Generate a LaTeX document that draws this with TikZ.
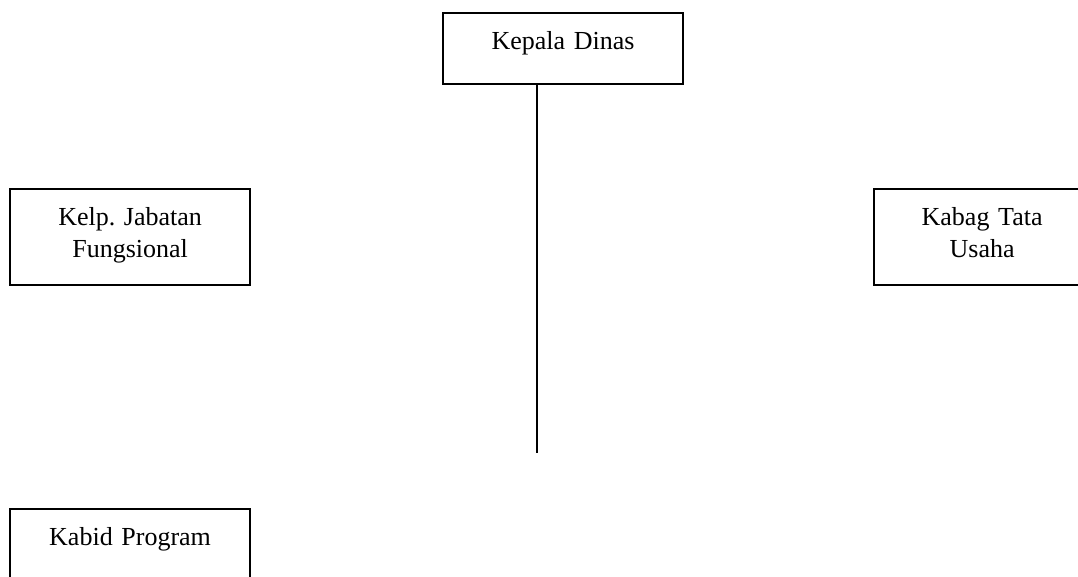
\documentclass[tikz,border=0pt]{standalone}
\usepackage{fontspec}
\setmainfont{Liberation Serif}
\frenchspacing
\usepackage{tikz}
\usetikzlibrary{calc,positioning}

\begin{document}
\begin{tikzpicture}[x=0.5pt,y=-0.5pt,
    unit/.style={draw,line width=1.1pt,anchor=north west,inner sep=0pt,
      align=center,text width=#1,text height=18pt,text depth=30pt,
      font=\fontsize{13}{16}\selectfont},
    unit/.default=120pt]
  \useasboundingbox (0,0) rectangle (1078,577);
  \clip (0,0) rectangle (1078,577);

  \node[unit,text depth=17.5pt] (kadis) at (442,12) {Kepala Dinas};
  \node[unit] (jafung) at (9,188) {Kelp. Jabatan\\Fungsional};
  \node[unit=108pt] (tu) at (873,188) {Kabag Tata\\Usaha};
  \node[unit] (program) at (9,508) {Kabid Program};

  % garis komando
  \coordinate (stem) at (537,453);
  \draw[line width=1.1pt] (stem |- kadis.south) -- (stem);
\end{tikzpicture}
\end{document}
